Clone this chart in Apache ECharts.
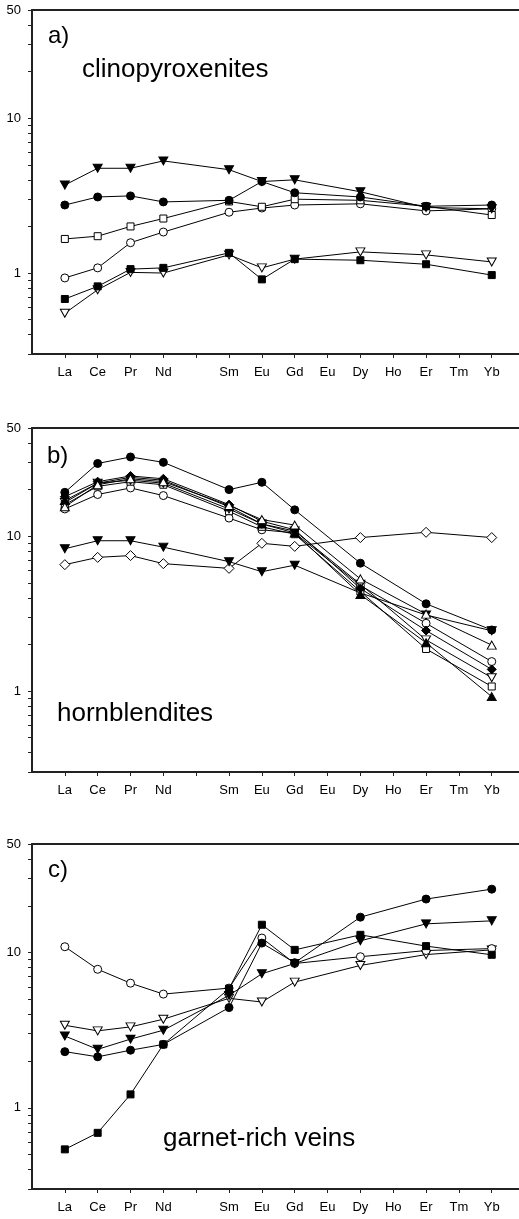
<!DOCTYPE html>
<html><head><meta charset="utf-8">
<script src="https://cdn.jsdelivr.net/npm/echarts@6/dist/echarts.min.js"></script>
<style>html,body{margin:0;padding:0;background:#fff}#c{width:519px;height:1219px}</style>
</head><body><div id="c"></div>
<script>
// x categories (index 4 = Pm, blank)
const categories = ['La','Ce','Pr','Nd','','Sm','Eu','Gd','Eu','Dy','Ho','Er','Tm','Yb'];
const xTickValues = [0,1,2,3,4,5,6,7,8,9,10,11,12,13];
const yTickValues = [0.3,0.4,0.5,0.6,0.7,0.8,0.9,1,2,3,4,5,6,7,8,9,10,20,30,40,50];
const yLabelValues = [1,10,50];
const panelLetters = ['a)','b)','c)'];
const panelNames = ['clinopyroxenites','hornblendites','garnet-rich veins'];

// panel a: clinopyroxenites
const aFilledDownTri = [3.7, 4.75, 4.75, 5.3, null, 4.65, 3.9, 4.0, null, 3.35, null, 2.65, null, 2.6];
const aFilledCircle  = [2.75, 3.1, 3.15, 2.88, null, 2.95, 3.9, 3.3, null, 3.1, null, 2.7, null, 2.75];
const aOpenSquare    = [1.66, 1.73, 2.0, 2.25, null, 2.9, 2.68, 3.0, null, 2.95, null, 2.7, null, 2.37];
const aOpenCircle    = [0.93, 1.08, 1.57, 1.84, null, 2.47, 2.63, 2.75, null, 2.8, null, 2.52, null, 2.6];
const aFilledSquare  = [0.68, 0.82, 1.06, 1.08, null, 1.35, 0.91, 1.23, null, 1.21, null, 1.14, null, 0.97];
const aOpenDownTri   = [0.55, 0.78, 1.01, 1.0, null, 1.31, 1.08, 1.23, null, 1.37, null, 1.31, null, 1.18];

// panel b: hornblendites
const bFilledCircle  = [19.2, 29.5, 32.5, 30, null, 20, 22.3, 14.8, null, 6.7, null, 3.66, null, 2.48];
const bFilledDownTri = [8.3, 9.35, 9.35, 8.5, null, 6.85, 5.9, 6.5, null, 4.3, null, 3.1, null, 2.45];
const bOpenDiamond   = [6.55, 7.3, 7.5, 6.65, null, 6.2, 9.0, 8.6, null, 9.8, null, 10.6, null, 9.8];
const bFilledDiamond = [18.0, 22.5, 24.5, 23.5, null, 16.0, 12.5, 11.0, null, 4.6, null, 2.46, null, 1.38];
const bFilledUpTri   = [17.0, 22.0, 24.0, 23.0, null, 15.5, 12.0, 10.5, null, 4.2, null, 2.05, null, 0.92];
const bOpenUpTri     = [15.5, 21.5, 23.5, 22.5, null, 15.8, 12.8, 11.8, null, 5.3, null, 3.14, null, 1.98];
const bOpenDownTri   = [16.5, 22.0, 23.0, 22.0, null, 15.0, 12.0, 10.8, null, 4.9, null, 2.14, null, 1.22];
const bOpenSquare    = [16.0, 21.0, 22.5, 21.5, null, 14.5, 11.5, 10.3, null, 4.4, null, 1.87, null, 1.07];
const bOpenCircle    = [15.0, 18.6, 20.5, 18.3, null, 13.1, 11.0, 10.5, null, 4.8, null, 2.74, null, 1.55];

// panel c: garnet-rich veins
const cOpenCircle    = [10.9, 7.8, 6.35, 5.4, null, 5.9, 12.4, 8.5, null, 9.4, null, 10.3, null, 10.6];
const cFilledCircle  = [2.3, 2.13, 2.35, 2.56, null, 4.42, 11.5, 8.6, null, 16.9, null, 22.1, null, 25.6];
const cFilledDownTri = [2.9, 2.38, 2.77, 3.16, null, 5.3, 7.3, 8.5, null, 11.9, null, 15.3, null, 16.0];
const cOpenDownTri   = [3.4, 3.13, 3.32, 3.72, null, 5.07, 4.8, 6.45, null, 8.26, null, 9.7, null, 10.4];
const cFilledSquare  = [0.54, 0.69, 1.22, 2.56, null, 5.85, 15.1, 10.4, null, 13.0, null, 11.0, null, 9.67];

const MARK = {
  fc: {symbol:'circle', size:8, rot:0, fill:'#000'},
  oc: {symbol:'circle', size:8, rot:0, fill:'#fff'},
  fs: {symbol:'rect', size:7, rot:0, fill:'#000'},
  os: {symbol:'rect', size:7, rot:0, fill:'#fff'},
  fdt: {symbol:'triangle', size:[9,8], rot:180, fill:'#000'},
  odt: {symbol:'triangle', size:[9,8], rot:180, fill:'#fff'},
  fut: {symbol:'triangle', size:[9,8], rot:0, fill:'#000'},
  out: {symbol:'triangle', size:[9,8], rot:0, fill:'#fff'},
  fd: {symbol:'diamond', size:[9,9], rot:0, fill:'#000'},
  od: {symbol:'diamond', size:[10,10], rot:0, fill:'#fff'}
};

const panels = [
  [[aOpenCircle,'oc'],[aOpenSquare,'os'],[aFilledCircle,'fc'],[aFilledDownTri,'fdt'],[aOpenDownTri,'odt'],[aFilledSquare,'fs']],
  [[bOpenDiamond,'od'],[bFilledDownTri,'fdt'],[bOpenCircle,'oc'],[bOpenSquare,'os'],[bOpenDownTri,'odt'],[bFilledUpTri,'fut'],[bFilledDiamond,'fd'],[bOpenUpTri,'out'],[bFilledCircle,'fc']],
  [[cOpenDownTri,'odt'],[cOpenCircle,'oc'],[cFilledDownTri,'fdt'],[cFilledCircle,'fc'],[cFilledSquare,'fs']]
];

const gridTops = [10, 428, 844];
const gridHeights = [344, 344, 345];
const X_MIN = -1, X_MAX = 13.83;
const FONT = 'Liberation Sans, Arial, sans-serif';
const AX = '#222';

const grids = [], xAxes = [], yAxes = [], series = [], graphics = [];
panels.forEach((list, gi) => {
  grids.push({left:32, top:gridTops[gi], right:0, height:gridHeights[gi], show:false, containLabel:false});
  xAxes.push({type:'value', gridIndex:gi, min:X_MIN, max:X_MAX, position:'bottom',
    axisLine:{show:true, onZero:false, lineStyle:{color:AX, width:2}},
    axisTick:{show:true, customValues:xTickValues, length:4, lineStyle:{color:AX, width:1}},
    axisLabel:{show:true, customValues:xTickValues, formatter:v => categories[Math.round(v)] || '', margin:12, fontSize:13, color:'#000', fontFamily:FONT},
    splitLine:{show:false}});
  // frame line on top
  xAxes.push({type:'value', gridIndex:gi, min:X_MIN, max:X_MAX, position:'top',
    axisLine:{show:true, onZero:false, lineStyle:{color:AX, width:2}},
    axisTick:{show:false}, axisLabel:{show:false}, splitLine:{show:false}});
  yAxes.push({type:'log', logBase:10, gridIndex:gi, min:0.3, max:50, position:'left',
    axisLine:{show:true, onZero:false, lineStyle:{color:AX, width:2}},
    axisTick:{show:true, customValues:yTickValues, length:4, lineStyle:{color:AX, width:1}},
    axisLabel:{show:true, customValues:yLabelValues, formatter:v => String(Math.round(v)), margin:11, fontSize:13, color:'#000', fontFamily:FONT},
    splitLine:{show:false}, minorTick:{show:false}});
  list.forEach(([vals, key], si) => {
    const m = MARK[key];
    series.push({type:'line', xAxisIndex:gi*2, yAxisIndex:gi,
      data: vals.map((v,i) => v == null ? null : [i, v]).filter(d => d),
      symbol:m.symbol, symbolSize:m.size, symbolRotate:m.rot, showSymbol:true, showAllSymbol:true,
      lineStyle:{color:'#000', width:1}, itemStyle:{color:m.fill, borderColor:'#000', borderWidth:1},
      emphasis:{disabled:true}, silent:true, z:2+si, clip:false});
  });
});

const letterPos = [[48, 36], [47, 456], [48, 870]];
const namePos = [[82, 70], [57, 714], [163, 1139]];
panelLetters.forEach((t, i) => {
  graphics.push({type:'text', left:letterPos[i][0], top:letterPos[i][1]-12, style:{text:t, font:'24px ' + FONT, fill:'#000'}});
  graphics.push({type:'text', left:namePos[i][0], top:namePos[i][1]-13, style:{text:panelNames[i], font:'26px ' + FONT, fill:'#000'}});
});

const chart = echarts.init(document.getElementById('c'), null, {renderer:'canvas'});
chart.setOption({animation:false, backgroundColor:'#fff', grid:grids, xAxis:xAxes, yAxis:yAxes, series:series, graphic:graphics, tooltip:{show:false}});
</script></body></html>
